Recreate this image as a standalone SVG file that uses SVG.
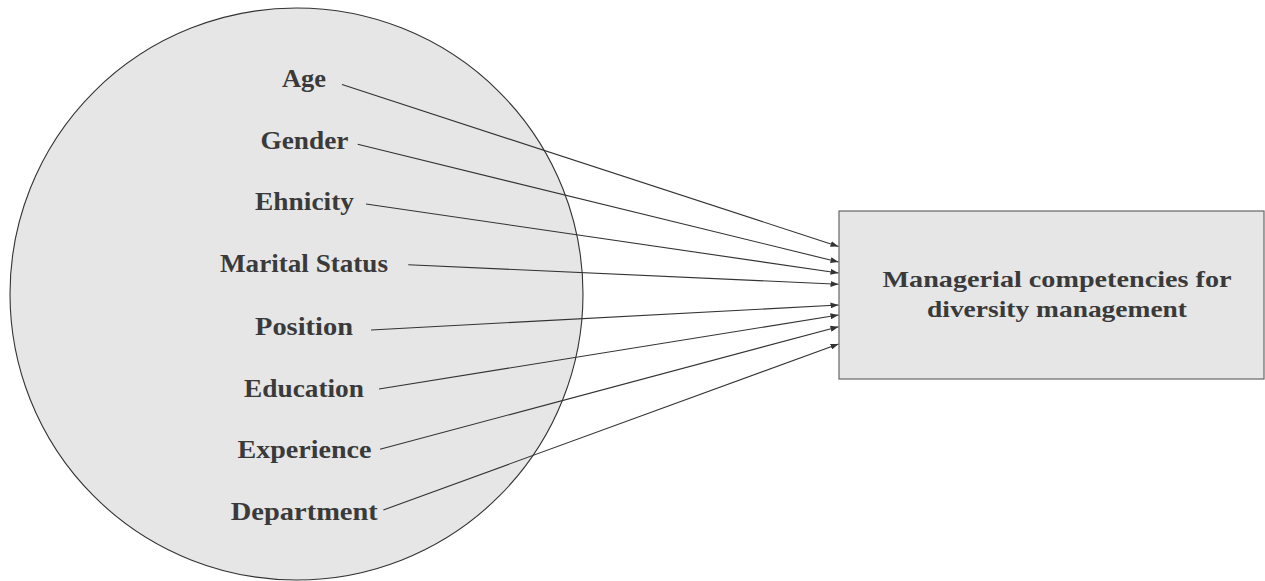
<svg xmlns="http://www.w3.org/2000/svg" width="1265" height="581" viewBox="0 0 1265 581">
<style>
.lbl{font-family:"Liberation Serif","Times New Roman",serif;font-weight:bold;font-size:26px;fill:#3a3a3a;text-anchor:middle}
.box{font-family:"Liberation Serif","Times New Roman",serif;font-weight:bold;font-size:24px;fill:#3a3a3a;text-anchor:middle}
.con{stroke:#333;stroke-width:1.1;fill:none;marker-end:url(#arr)}
</style>
<defs>
<marker id="arr" viewBox="0 0 8 6" refX="8" refY="3" markerWidth="8" markerHeight="6" markerUnits="userSpaceOnUse" orient="auto">
<path d="M0,0 L8,3 L0,6 z" fill="#333"/>
</marker>
</defs>
<rect width="1265" height="581" fill="#fff"/>
<g id="circle">
<ellipse cx="296.5" cy="294" rx="286.5" ry="286" fill="#e6e6e6" stroke="#333" stroke-width="1.1"/>
</g>
<g id="target">
<rect x="839" y="211" width="425" height="168" fill="#e6e6e6" stroke="#666" stroke-width="1.2"/>
<text class="box" x="1057" y="287" textLength="349" lengthAdjust="spacingAndGlyphs">Managerial competencies for</text>
<text class="box" x="1057" y="317" textLength="260" lengthAdjust="spacingAndGlyphs">diversity management</text>
</g>
<g id="n-age"><text class="lbl" x="304" y="87" textLength="44" lengthAdjust="spacingAndGlyphs">Age</text></g>
<g id="n-gender"><text class="lbl" x="304.5" y="148.5" textLength="88" lengthAdjust="spacingAndGlyphs">Gender</text></g>
<g id="n-ehnicity"><text class="lbl" x="304.5" y="210" textLength="99" lengthAdjust="spacingAndGlyphs">Ehnicity</text></g>
<g id="n-marital"><text class="lbl" x="304" y="272" textLength="168" lengthAdjust="spacingAndGlyphs">Marital Status</text></g>
<g id="n-position"><text class="lbl" x="304" y="335" textLength="98" lengthAdjust="spacingAndGlyphs">Position</text></g>
<g id="n-education"><text class="lbl" x="304" y="397" textLength="120" lengthAdjust="spacingAndGlyphs">Education</text></g>
<g id="n-experience"><text class="lbl" x="304.5" y="458" textLength="134" lengthAdjust="spacingAndGlyphs">Experience</text></g>
<g id="n-department"><text class="lbl" x="304.3" y="520" textLength="147" lengthAdjust="spacingAndGlyphs">Department</text></g>
<g id="connectors">
<line class="con" x1="342" y1="84.5" x2="838.5" y2="246.5"/>
<line class="con" x1="357.7" y1="144.3" x2="838.5" y2="262"/>
<line class="con" x1="366" y1="204" x2="838.5" y2="273"/>
<line class="con" x1="408.3" y1="264.7" x2="838.5" y2="284.3"/>
<line class="con" x1="371" y1="330" x2="838.5" y2="305"/>
<line class="con" x1="379" y1="389" x2="838.5" y2="315"/>
<line class="con" x1="380" y1="449.3" x2="838.5" y2="326.7"/>
<line class="con" x1="383.3" y1="510" x2="838.5" y2="344"/>
</g>
</svg>
